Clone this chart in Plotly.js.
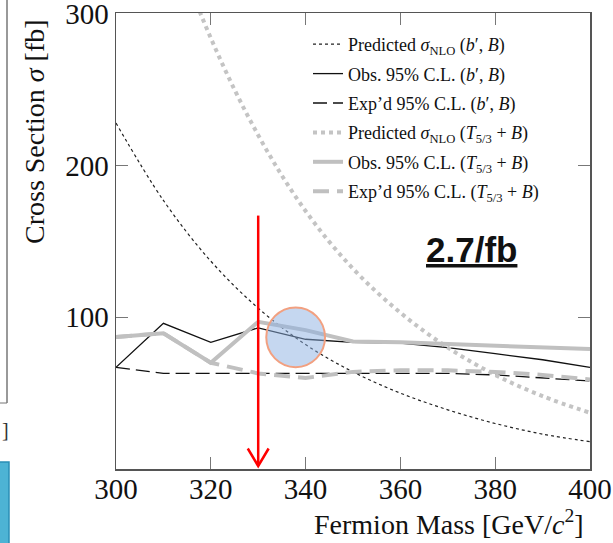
<!DOCTYPE html>
<html><head><meta charset="utf-8">
<script src="https://cdn.plot.ly/plotly-3.0.1.min.js"></script>
<style>body{margin:0;background:#fff}#c{width:613px;height:543px}</style>
</head><body><div id="c"></div>
<script>
// Data
var mass = [300, 310, 320, 330, 340, 350, 360, 370, 380, 390, 400];
var predBp   = [228, 177, 137, 106, 82, 64, 50, 39, 30, 23, 18];
var obsBp    = [67, 96, 83.5, 93, 85.5, 83.5, 83, 80, 76, 72, 67];
var expBp    = [67, 63, 63, 63, 63, 63, 63, 63, 62, 60, 58];
var predT53  = [472, 366, 284, 220, 170, 132, 103, 80, 62, 48, 37];
var obsT53   = [87, 89.5, 70, 97, 91.5, 84, 83.5, 82.5, 81.5, 80, 79];
var expT53   = [87, 89.5, 70, 63, 60, 64, 65, 65, 64, 62, 59];
var xTicks = [300, 320, 340, 360, 380, 400];
var yTicks = [100, 200, 300];
var legendNames = [
  'Predicted <i>σ</i><sub>NLO</sub> (<i>b</i>′, <i>B</i>)',
  'Obs. 95% C.L. (<i>b</i>′, <i>B</i>)',
  'Exp’d 95% C.L. (<i>b</i>′, <i>B</i>)',
  'Predicted <i>σ</i><sub>NLO</sub> (<i>T</i><sub>5/3</sub> + <i>B</i>)',
  'Obs. 95% C.L. (<i>T</i><sub>5/3</sub> + <i>B</i>)',
  'Exp’d 95% C.L. (<i>T</i><sub>5/3</sub> + <i>B</i>)'
];
var markMass = 330;
var circleCenter = [337.9, 86.8];
var circleRadius = [6.2, 19.7];
var lumiLabel = '2.7/fb';

var serif = 'Liberation Serif, Times New Roman, serif';
var series = [predBp, obsBp, expBp, predT53, obsT53, expT53];
var styles = [
  {color:'#222', width:1.2, dash:'dot', shape:'spline'},
  {color:'#111', width:1.3, dash:'solid', shape:'linear'},
  {color:'#111', width:1.3, dash:'14px,6px', shape:'linear'},
  {color:'#c4c4c4', width:4, dash:'dot', shape:'spline'},
  {color:'#c0c0c0', width:4, dash:'solid', shape:'linear'},
  {color:'#c0c0c0', width:4, dash:'16px,8px', shape:'linear'}
];
var traces = series.map(function(s, i){
  return {x: mass, y: s, type:'scatter', mode:'lines', name: legendNames[i],
    legendgroup:'g'+i, line: styles[i], hoverinfo:'skip'};
});

var W = 474, H = 456, L = 116, T = 13;
function px(x){return (x - L)/W;}
function py(y){return (T + H - y)/H;}

var layout = {
  width:613, height:543,
  margin:{l:116, r:23, t:13, b:74},
  paper_bgcolor:'#fff', plot_bgcolor:'#fff',
  showlegend:true,
  legend:{x:px(308), y:py(26), xanchor:'left', yanchor:'top', bgcolor:'rgba(0,0,0,0)',
    font:{family:serif, size:18, color:'#111'}, tracegroupgap:3, itemwidth:30},
  xaxis:{range:[300,400], tickvals:xTicks, ticks:'inside', ticklen:12, tickcolor:'#777',
    showgrid:false, zeroline:false, showline:true, linecolor:'#555', linewidth:1.5, mirror:'ticks',
    ticklabelstandoff:-6, ticklabeloverflow:'allow',
    tickfont:{family:serif, size:29, color:'#111'}, fixedrange:true},
  yaxis:{range:[0,300.5], tickvals:yTicks, ticks:'inside', ticklen:12, tickcolor:'#777',
    showgrid:false, zeroline:false, showline:true, linecolor:'#555', linewidth:1.5, mirror:'ticks',
    ticklabeloverflow:'allow',
    tickfont:{family:serif, size:29, color:'#111'}, fixedrange:true},
  annotations:[
    {xref:'paper', yref:'paper', x:px(34), y:py(132), xanchor:'center', yanchor:'middle',
     text:'Cross Section <i>σ</i> [fb]', textangle:-90,
     showarrow:false, font:{family:serif, size:28, color:'#111'}},
    {xref:'paper', yref:'paper', x:px(586), y:py(522), xanchor:'right', yanchor:'middle',
     text:'Fermion Mass [GeV/<i>c</i><sup>2</sup>]',
     showarrow:false, font:{family:serif, size:28, color:'#111'}},
    {xref:'paper', yref:'paper', x:px(471), y:py(249), xanchor:'center', yanchor:'middle',
     text:'<b><u>'+lumiLabel+'</u></b>',
     showarrow:false, font:{family:'Liberation Sans, Arial, sans-serif', size:35, color:'#111'}},
    {xref:'paper', yref:'paper', x:px(5), y:py(430), xanchor:'center', yanchor:'middle', text:']', showarrow:false,
     font:{family:serif, size:20, color:'#333'}}
  ],
  shapes:[
    {type:'circle', xref:'x', yref:'y', x0:circleCenter[0]-circleRadius[0], x1:circleCenter[0]+circleRadius[0],
     y0:circleCenter[1]-circleRadius[1], y1:circleCenter[1]+circleRadius[1],
     fillcolor:'rgba(140,175,225,0.5)', line:{color:'#f2a080', width:2}, layer:'above'},
    {type:'line', xref:'x', yref:'y', x0:markMass, x1:markMass, y0:167, y1:2,
     line:{color:'#ff0000', width:2.5}},
    {type:'path', xref:'x', yref:'y', path:'M '+(markMass-2.2)+' 13.5 L '+markMass+' 2 L '+(markMass+2.2)+' 13.5',
     line:{color:'#ff0000', width:2.5}},
    {type:'line', xref:'paper', yref:'paper', x0:px(7), x1:px(7), y0:py(0), y1:py(403), line:{color:'#777', width:1.5}},
    {type:'line', xref:'paper', yref:'paper', x0:px(0), x1:px(7), y0:py(403), y1:py(403), line:{color:'#777', width:1}},
    {type:'rect', xref:'paper', yref:'paper', x0:px(-2), x1:px(9), y0:py(462), y1:py(545),
     fillcolor:'#4db3d4', line:{color:'#2a8fb5', width:1.5}}
  ]
};
Plotly.newPlot('c', traces, layout, {staticPlot:true});
</script></body></html>
